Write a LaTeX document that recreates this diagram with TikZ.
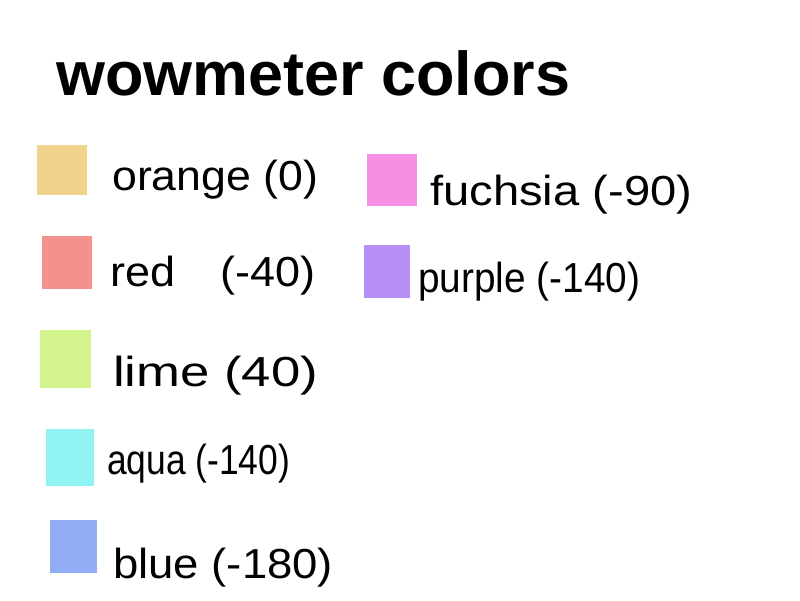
\documentclass[tikz,border=0pt]{standalone}
\usepackage{fontspec}
\usepackage{graphicx}
\setmainfont{Liberation Sans}
\definecolor{cOrange}{HTML}{F2D38C}
\definecolor{cRed}{HTML}{F3918C}
\definecolor{cLime}{HTML}{D3F48C}
\definecolor{cAqua}{HTML}{90F3F3}
\definecolor{cBlue}{HTML}{91AEF5}
\definecolor{cFuchsia}{HTML}{F48FE1}
\definecolor{cPurple}{HTML}{B58FF4}
\newcommand\fitw[2]{\resizebox{#1pt}{\height}{#2}}
\begin{document}
\begin{tikzpicture}[x=1pt,y=-1pt,
  swatch/.style={draw=none,inner sep=0pt,anchor=north west},
  lbl/.style={inner sep=0pt,anchor=base west,font=\fontsize{42}{46}\selectfont},
  ttl/.style={inner sep=0pt,anchor=base west,font=\fontsize{62}{66}\selectfont\bfseries}]
\useasboundingbox[fill=white] (0,0) rectangle (800,600);
\node[ttl] (title) at (56,95) {\fitw{514}{wowmeter colors}};
% swatches
\node[swatch,fill=cOrange,minimum width=50pt,minimum height=50pt] (sOrange) at (37,145) {};
\node[swatch,fill=cRed,minimum width=50pt,minimum height=53pt] (sRed) at (42,236) {};
\node[swatch,fill=cLime,minimum width=51pt,minimum height=58pt] (sLime) at (40,330) {};
\node[swatch,fill=cAqua,minimum width=48pt,minimum height=57pt] (sAqua) at (46,429) {};
\node[swatch,fill=cBlue,minimum width=47pt,minimum height=53pt] (sBlue) at (50,520) {};
\node[swatch,fill=cFuchsia,minimum width=50pt,minimum height=52pt] (sFuchsia) at (367,154) {};
\node[swatch,fill=cPurple,minimum width=46pt,minimum height=53pt] (sPurple) at (364,245) {};
% labels
\node[lbl] (lOrange) at (112,190) {\fitw{206}{orange (0)}};
\node[lbl] (lRed) at (110,286) {\fitw{205}{red\hspace{1em}(-40)}};
\node[lbl] (lLime) at (113,386) {\fitw{205}{lime (40)}};
\node[lbl] (lAqua) at (107,474) {\fitw{183}{aqua (-140)}};
\node[lbl] (lBlue) at (113,578) {\fitw{220}{blue (-180)}};
\node[lbl] (lFuchsia) at (430,205) {\fitw{262}{fuchsia (-90)}};
\node[lbl] (lPurple) at (418,292) {\fitw{222}{purple (-140)}};
\end{tikzpicture}
\end{document}
